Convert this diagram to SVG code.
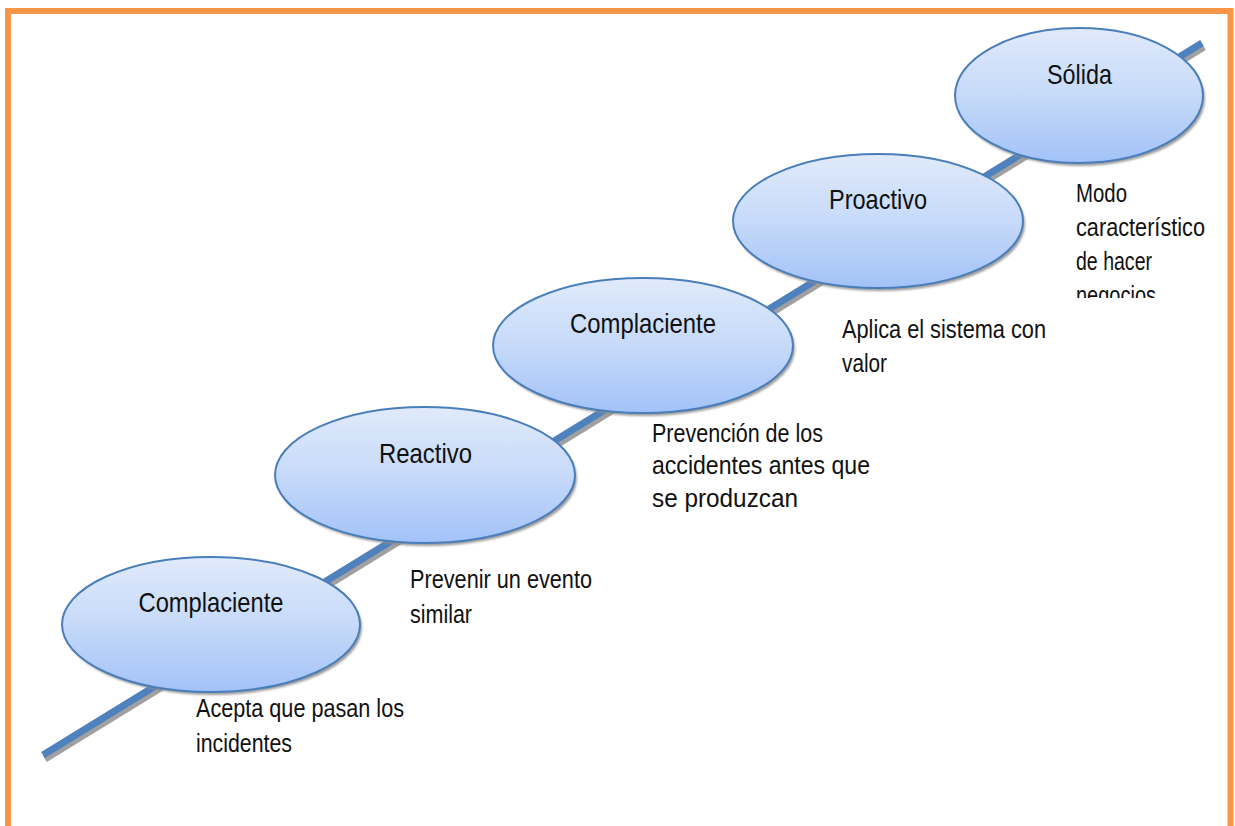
<svg xmlns="http://www.w3.org/2000/svg" width="1235" height="826" viewBox="0 0 1235 826">
<defs>
<linearGradient id="g" x1="0" y1="0" x2="0" y2="1">
<stop offset="0" stop-color="#e0eafb"/>
<stop offset="0.5" stop-color="#c6daf9"/>
<stop offset="1" stop-color="#a2c2f8"/>
</linearGradient>
<filter id="blur" x="-10%" y="-10%" width="120%" height="130%"><feGaussianBlur stdDeviation="1"/></filter>
<clipPath id="c1"><rect x="640" y="410" width="260" height="102"/></clipPath>
<clipPath id="c2"><rect x="1065" y="170" width="160" height="128"/></clipPath>
</defs>
<style>
.sh{fill:#8c8c8c;opacity:0.85;filter:url(#blur)}
.el{fill:url(#g);stroke:#4a7ebb;stroke-width:2}
.t{font-family:"Liberation Sans",Arial,sans-serif;font-size:28px;fill:#111;text-anchor:middle}
.b{font-family:"Liberation Sans",Arial,sans-serif;font-size:25px;fill:#111}
</style>
<rect x="8" y="11" width="1222.5" height="840" fill="#ffffff" stroke="#f79646" stroke-width="6"/>
<g id="connectors">
<line x1="45" y1="759" x2="1204" y2="47" stroke="#a0a0a0" stroke-width="7"/>
<line x1="43" y1="755" x2="1202" y2="43" stroke="#4f81bd" stroke-width="7"/>
</g>
<g id="n1">
<ellipse class="sh" cx="213" cy="627.5" rx="149" ry="67.5"/>
<ellipse class="el" cx="211" cy="624.5" rx="149" ry="67.5"/>
<text class="t" x="211" y="612" textLength="145" lengthAdjust="spacingAndGlyphs">Complaciente</text>
</g>
<g id="n2">
<ellipse class="sh" cx="427" cy="478" rx="150" ry="68"/>
<ellipse class="el" cx="425" cy="475" rx="150" ry="68"/>
<text class="t" x="425.5" y="463" textLength="93" lengthAdjust="spacingAndGlyphs">Reactivo</text>
</g>
<g id="n3">
<ellipse class="sh" cx="645" cy="348.5" rx="150" ry="67.5"/>
<ellipse class="el" cx="643" cy="345.5" rx="150" ry="67.5"/>
<text class="t" x="643" y="333" textLength="146" lengthAdjust="spacingAndGlyphs">Complaciente</text>
</g>
<g id="n4">
<ellipse class="sh" cx="880" cy="224" rx="145" ry="67"/>
<ellipse class="el" cx="878" cy="221" rx="145" ry="67"/>
<text class="t" x="878" y="209" textLength="98" lengthAdjust="spacingAndGlyphs">Proactivo</text>
</g>
<g id="n5">
<ellipse class="sh" cx="1081" cy="98.5" rx="124" ry="67.5"/>
<ellipse class="el" cx="1079" cy="95.5" rx="124" ry="67.5"/>
<text class="t" x="1079.5" y="84" textLength="65" lengthAdjust="spacingAndGlyphs">Sólida</text>
</g>
<g id="label1">
<text class="b" x="196" y="717" textLength="208" lengthAdjust="spacingAndGlyphs">Acepta que pasan los</text>
<text class="b" x="196" y="752" textLength="96" lengthAdjust="spacingAndGlyphs">incidentes</text>
</g>
<g id="label2">
<text class="b" x="410" y="588" textLength="182" lengthAdjust="spacingAndGlyphs">Prevenir un evento</text>
<text class="b" x="410" y="623" textLength="62" lengthAdjust="spacingAndGlyphs">similar</text>
</g>
<g id="label3" clip-path="url(#c1)">
<text class="b" x="652" y="442" textLength="171" lengthAdjust="spacingAndGlyphs">Prevención de los</text>
<text class="b" x="652" y="474" textLength="218" lengthAdjust="spacingAndGlyphs">accidentes antes que</text>
<text class="b" x="652" y="507" textLength="146" lengthAdjust="spacingAndGlyphs">se produzcan</text>
</g>
<g id="label4">
<text class="b" x="842" y="338" textLength="204" lengthAdjust="spacingAndGlyphs">Aplica el sistema con</text>
<text class="b" x="842" y="372" textLength="45" lengthAdjust="spacingAndGlyphs">valor</text>
</g>
<g id="label5" clip-path="url(#c2)">
<text class="b" x="1076" y="202" textLength="51" lengthAdjust="spacingAndGlyphs">Modo</text>
<text class="b" x="1076" y="236" textLength="129" lengthAdjust="spacingAndGlyphs">característico</text>
<text class="b" x="1076" y="270" textLength="76" lengthAdjust="spacingAndGlyphs">de hacer</text>
<text class="b" x="1076" y="304" textLength="80" lengthAdjust="spacingAndGlyphs">negocios</text>
</g>
</svg>
